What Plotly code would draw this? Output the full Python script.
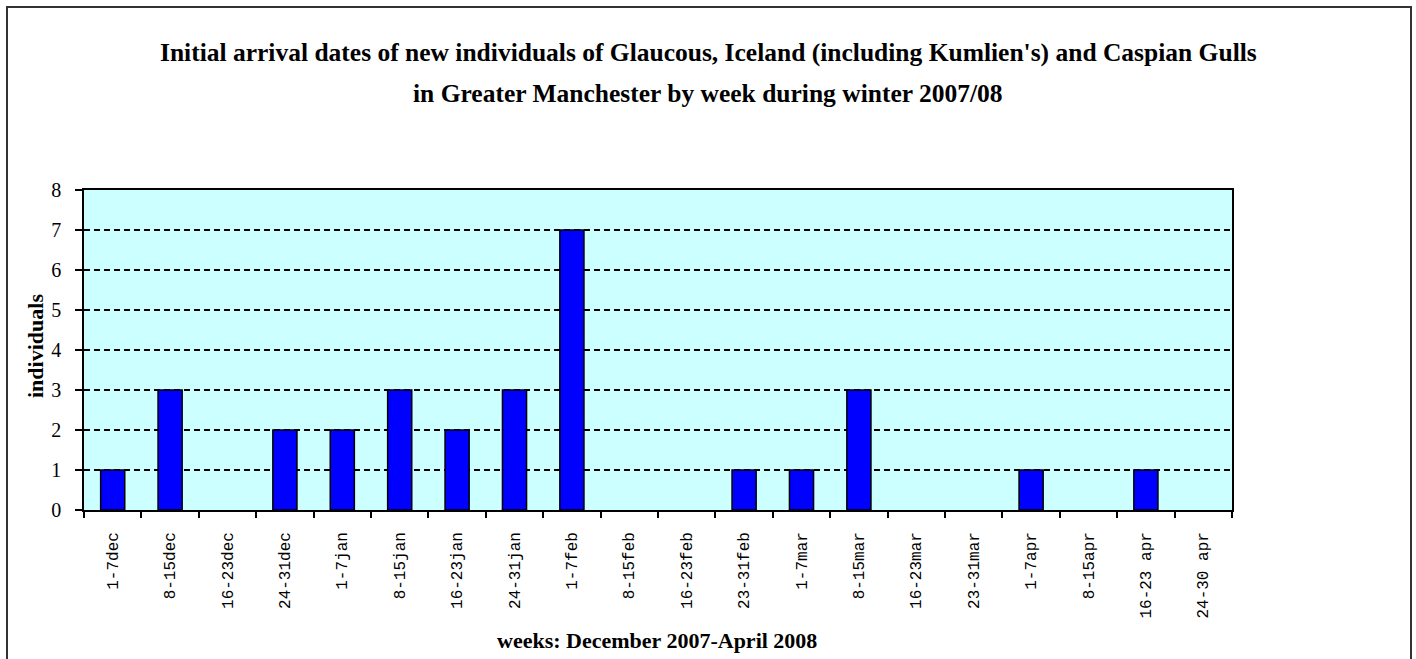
import plotly.graph_objects as go

weeks = ["1-7dec", "8-15dec", "16-23dec", "24-31dec", "1-7jan", "8-15jan", "16-23jan",
         "24-31jan", "1-7feb", "8-15feb", "16-23feb", "23-31feb", "1-7mar", "8-15mar",
         "16-23mar", "23-31mar", "1-7apr", "8-15apr", "16-23 apr", "24-30 apr"]
individuals = [1, 3, 0, 2, 2, 3, 2, 3, 7, 0, 0, 1, 1, 3, 0, 0, 1, 0, 1, 0]
y_ticks = [0, 1, 2, 3, 4, 5, 6, 7, 8]

title_line1 = "Initial arrival dates of new individuals of Glaucous, Iceland (including Kumlien's) and Caspian Gulls"
title_line2 = "in Greater Manchester by week during winter 2007/08"
x_title = "weeks: December 2007-April 2008"
y_title = "individuals"

W, H = 1416, 659
L, R, T, B = 84, 184, 190, 149
pw, ph = W - L - R, H - T - B

def px(x):
    return (x - L) / pw

def py(y):
    return (H - B - y) / ph

serif = "Liberation Serif, Times New Roman, serif"

outline_widths = [1.5 if v > 0 else 0 for v in individuals]

fig = go.Figure()
fig.add_trace(go.Bar(
    x=weeks, y=individuals,
    marker=dict(color="#0000FF", line=dict(color="#000000", width=outline_widths)),
    hoverinfo="x+y",
))

fig.update_layout(
    width=W, height=H,
    margin=dict(l=L, r=R, t=T, b=B, pad=0),
    paper_bgcolor="#FFFFFF",
    plot_bgcolor="#CCFFFF",
    bargap=0.58,
    showlegend=False,
    font=dict(family=serif, color="#000000"),
    xaxis=dict(
        type="category",
        showline=True, linecolor="#000000", linewidth=1.5, mirror=True,
        ticks="outside", tickson="boundaries", ticklen=6, tickwidth=1.5, tickcolor="#000000",
        tickangle=-90,
        tickfont=dict(family="Liberation Mono, Courier New, monospace", size=16, color="#000000"),
        ticklabelstandoff=14,
        showgrid=False, zeroline=False,
        fixedrange=True,
    ),
    yaxis=dict(
        range=[0, 8],
        tickvals=y_ticks,
        showline=True, linecolor="#000000", linewidth=1.5, mirror=True,
        ticks="outside", ticklen=7, tickwidth=1.5, tickcolor="#000000",
        tickfont=dict(family=serif, size=20, color="#000000"),
        ticklabelstandoff=10,
        showgrid=True, gridcolor="#000000", gridwidth=1.5, griddash="6px,4px",
        zeroline=False,
        fixedrange=True,
    ),
    annotations=[
        dict(text="<b>" + title_line1 + "</b>", x=px(708), y=py(52), xref="paper", yref="paper",
             xanchor="center", yanchor="middle", showarrow=False,
             font=dict(family=serif, size=25.5, color="#000000")),
        dict(text="<b>" + title_line2 + "</b>", x=px(708), y=py(94), xref="paper", yref="paper",
             xanchor="center", yanchor="middle", showarrow=False,
             font=dict(family=serif, size=25.5, color="#000000")),
        dict(text="<b>" + x_title + "</b>", x=px(657), y=py(640), xref="paper", yref="paper",
             xanchor="center", yanchor="middle", showarrow=False,
             font=dict(family=serif, size=22, color="#000000")),
        dict(text="<b>" + y_title + "</b>", x=px(35), y=py(346), xref="paper", yref="paper",
             xanchor="center", yanchor="middle", showarrow=False, textangle=-90,
             font=dict(family=serif, size=22, color="#000000")),
    ],
    shapes=[
        dict(type="rect", xref="paper", yref="paper",
             x0=px(7), x1=px(1411), y0=py(680), y1=py(7),
             line=dict(color="#333333", width=2), fillcolor="rgba(0,0,0,0)", layer="below"),
    ],
)

fig.write_html("out.html",
               config={"displayModeBar": False},
               post_script="document.body.style.margin='0';document.body.style.overflow='hidden';")
